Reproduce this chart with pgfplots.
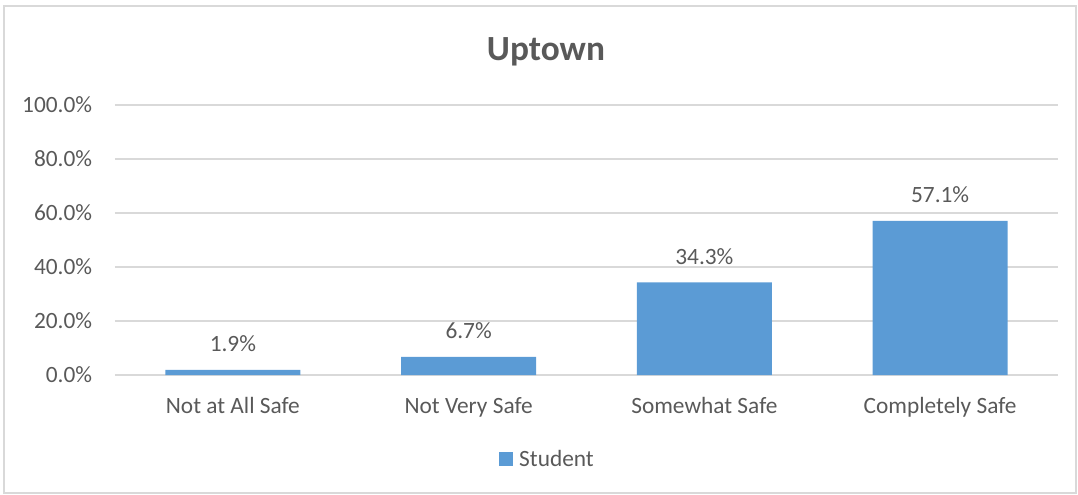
\documentclass[border=0pt]{standalone}
\usepackage{fontspec}
\setmainfont{Carlito}
\usepackage{pgfplots}
\pgfplotsset{compat=1.18}
\definecolor{barblue}{HTML}{5B9BD5}
\definecolor{txtgray}{HTML}{595959}
\definecolor{gridgray}{HTML}{D9D9D9}
\newcommand{\lbl}{\fontsize{17.5}{21}\selectfont}
\begin{document}
\begin{tikzpicture}
% frame and bounding box, 1px = 0.75pt, origin at lower left of plot area
\useasboundingbox (-86.25pt,-89.25pt) rectangle (722.25pt,281.25pt);
\draw[gridgray, line width=1.3pt] (-83.25pt,-88.5pt) rectangle (720.75pt,276.75pt);
\begin{axis}[
  at={(0pt,0pt)}, anchor=south west,
  scale only axis,
  width=707.25pt, height=202.5pt,
  ybar, bar width=101.25pt,
  xmin=-0.5, xmax=3.5,
  ymin=0, ymax=100,
  ytick={0,20,...,100},
  xtick=data,
  xticklabels={Not at All Safe, Not Very Safe, Somewhat Safe, Completely Safe},
  axis line style={draw=none},
  major tick length=0pt,
  ymajorgrids,
  grid style={gridgray, line width=1.3pt},
  /pgf/number format/assume math mode=true,
  yticklabel={\pgfmathprintnumber[fixed,fixed zerofill,precision=1]{\tick}\%},
  yticklabel style={font=\lbl, text=txtgray, anchor=east, inner sep=0pt, xshift=-17pt},
  xticklabel style={font=\lbl, text=txtgray, anchor=base, inner sep=0pt, yshift=-28.5pt},
  nodes near coords={\pgfmathprintnumber[fixed,fixed zerofill,precision=1]{\pgfplotspointmeta}\%},
  nodes near coords style={font=\lbl, text=txtgray, anchor=base, inner sep=0pt, yshift=13.5pt},
  legend style={at={(0.459,-0.311)}, anchor=center, draw=none, fill=none,
    font=\lbl, text=txtgray, inner sep=0pt},
  legend image code/.code={\fill[barblue] (0pt,-5.25pt) rectangle (10.5pt,5.25pt); \path (13pt,0pt);},
  title={\fontsize{26.5}{30}\selectfont\bfseries Uptown},
  title style={text=txtgray, at={(0.457,1.0)}, anchor=center, yshift=34pt},
]
\addplot[fill=barblue, draw=none] coordinates {(0,1.9) (1,6.7) (2,34.3) (3,57.1)};
\addlegendentry{Student}
\end{axis}
\end{tikzpicture}
\end{document}
